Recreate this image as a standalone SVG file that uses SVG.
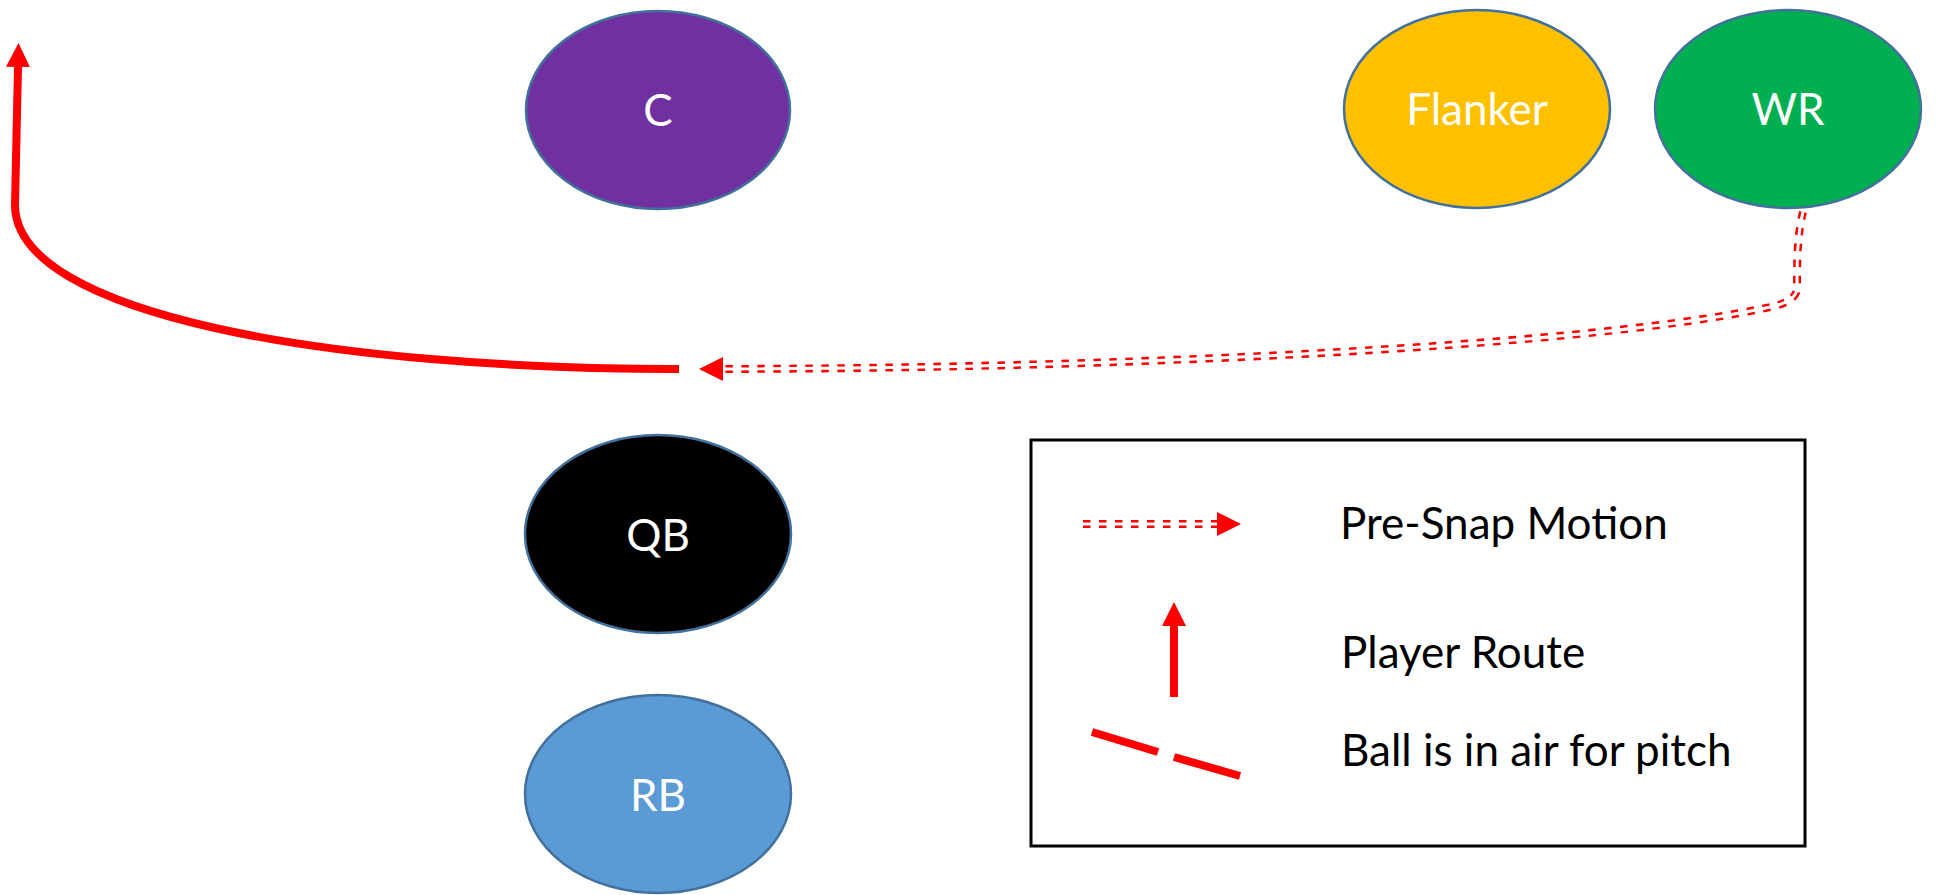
<svg xmlns="http://www.w3.org/2000/svg" width="1936" height="895" viewBox="0 0 1936 895">
<style>
.node{stroke:#41719C;stroke-width:2.5}
.lbl{font-family:Lato,"Open Sans","Liberation Sans",sans-serif;font-size:44px;fill:#FFFFFF;text-anchor:middle}
.leg{font-family:Lato,"Open Sans","Liberation Sans",sans-serif;font-size:44px;fill:#000000}
.route{fill:none;stroke:#FF0000;stroke-width:8}
.motion{fill:none;stroke:#FF0000;stroke-width:8;stroke-dasharray:7.5 8.5}
.motionIn{fill:none;stroke:#FFFFFF;stroke-width:3}
</style>
<defs>
<marker id="ah" markerUnits="userSpaceOnUse" viewBox="0 0 24 24" markerWidth="24" markerHeight="24" refX="0" refY="12" orient="auto">
<path d="M0,0 L24,12 L0,24 z" fill="#FF0000"/>
</marker>
</defs>
<rect width="1936" height="895" fill="#FFFFFF"/>
<g id="C"><ellipse class="node" cx="658" cy="110" rx="132" ry="99" fill="#7030A0"/><text class="lbl" x="658" y="126">C</text></g>
<g id="Flanker"><ellipse class="node" cx="1477" cy="109" rx="133" ry="99" fill="#FFC000"/><text class="lbl" x="1477" y="125">Flanker</text></g>
<g id="WR"><ellipse class="node" cx="1788" cy="109" rx="133" ry="99" fill="#00B050"/><text class="lbl" x="1788" y="125">WR</text></g>
<g id="QB"><ellipse class="node" cx="658" cy="534" rx="133" ry="99" fill="#000000"/><text class="lbl" x="658" y="551">QB</text></g>
<g id="RB"><ellipse class="node" cx="658" cy="794" rx="133" ry="99" fill="#5B9BD5"/><text class="lbl" x="658" y="811">RB</text></g>
<g id="connectors">
<path class="route" d="M679,369 C330,369 15,315 15,205 L18,67" marker-end="url(#ah)"/>
<path class="motion" d="M1803,212 C1797,235 1797,265 1797,288 Q1797,300 1775,306 C1600,345 1150,368 723,369" marker-end="url(#ah)"/>
<path class="motionIn" d="M1803,212 C1797,235 1797,265 1797,288 Q1797,300 1775,306 C1600,345 1150,368 723,369"/>
</g>
<g id="legend">
<rect x="1031" y="440" width="774" height="406" fill="none" stroke="#000000" stroke-width="3"/>
<path class="motion" d="M1083,524 L1217,524" marker-end="url(#ah)"/>
<path class="motionIn" d="M1083,524 L1217,524"/>
<text class="leg" x="1340" y="539">Pre-Snap Motion</text>
<path class="route" d="M1174,697 L1174,626" marker-end="url(#ah)"/>
<text class="leg" x="1341" y="668">Player Route</text>
<path class="route" d="M1092,732 L1158,752 M1174,757 L1240,776"/>
<text class="leg" x="1341" y="766">Ball is in air for pitch</text>
</g>
</svg>
